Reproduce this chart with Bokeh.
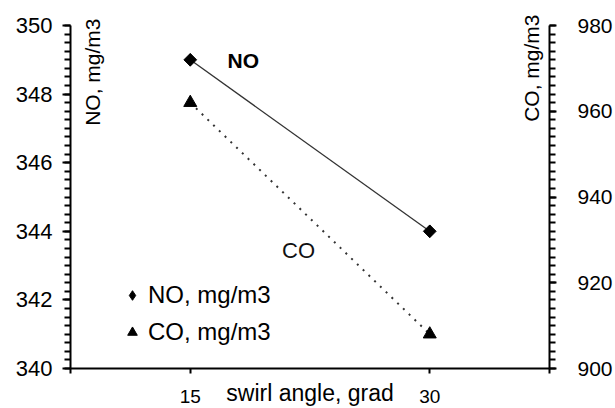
import math
from bokeh.plotting import figure
from bokeh.models import (Range1d, LinearAxis, FixedTicker, Label, Legend, LegendItem)
from bokeh.embed import file_html
from bokeh.resources import INLINE

# ---- data ----
swirl_angle = [15, 30]
no_values = [349, 344]      # NO, mg/m3 (left axis)
co_values = [962, 908]      # CO, mg/m3 (right axis)
x_tick_labels = {7.5: "", 15: "15", 30: "30", 37.5: ""}
no_ticks = [340, 342, 344, 346, 348, 350]
co_ticks = [900, 920, 940, 960, 980]
x_label = "swirl angle, grad"
no_axis_label = "NO, mg/m3"
co_axis_label = "CO, mg/m3"

FONT = "Liberation Sans"

# head-room above the top tick so the rotated axis titles are not clipped
NO_LO, NO_HI = 340, 350
CO_LO, CO_HI = 900, 980
PAD = 17 / 343.0
no_top = NO_HI + (NO_HI - NO_LO) * PAD
co_top = CO_HI + (CO_HI - CO_LO) * PAD

p = figure(width=615, height=408, output_backend="svg", toolbar_location=None,
           x_range=Range1d(7.5, 37.5), y_range=Range1d(NO_LO, no_top),
           min_border_left=70, min_border_right=63, min_border_top=8, min_border_bottom=38,
           x_axis_type=None, y_axis_type=None)
p.outline_line_color = None
p.background_fill_color = "white"
p.border_fill_color = "white"
p.xgrid.visible = False
p.ygrid.visible = False
p.extra_y_ranges = {"co": Range1d(CO_LO, co_top)}

# bottom axis
xa = LinearAxis(ticker=FixedTicker(ticks=[7.5, 15, 30, 37.5], minor_ticks=[]))
xa.major_label_overrides = x_tick_labels
xa.axis_line_width = 2
xa.axis_line_color = "black"
xa.major_tick_line_width = 2
xa.major_tick_out = 5
xa.major_tick_in = 0
xa.minor_tick_out = 0
xa.minor_tick_in = 0
xa.major_label_standoff = 16
xa.major_label_text_font = FONT
xa.major_label_text_font_size = "19px"
xa.major_label_text_color = "black"
xa.axis_label = x_label
xa.axis_label_text_font = FONT
xa.axis_label_text_font_size = "23px"
xa.axis_label_text_font_style = "normal"
xa.axis_label_text_color = "black"
xa.axis_label_standoff = -26
p.add_layout(xa, "below")

# left axis
ya = LinearAxis(bounds=(NO_LO, NO_HI),
                ticker=FixedTicker(ticks=no_ticks,
                                   minor_ticks=[340 + 0.25 * i for i in range(41)]))
ya.axis_line_width = 2
ya.axis_line_color = "black"
ya.major_tick_line_width = 2
ya.minor_tick_line_width = 2
ya.major_tick_out = 8
ya.major_tick_in = 0
ya.minor_tick_out = 6
ya.minor_tick_in = 0
ya.major_label_standoff = 10
ya.major_label_text_font = FONT
ya.major_label_text_font_size = "22px"
ya.major_label_text_color = "black"
p.add_layout(ya, "left")

# right axis
ya2 = LinearAxis(y_range_name="co", bounds=(CO_LO, CO_HI),
                 ticker=FixedTicker(ticks=co_ticks,
                                    minor_ticks=[900 + 2 * i for i in range(41)]))
ya2.axis_line_width = 2
ya2.axis_line_color = "black"
ya2.major_tick_line_width = 2
ya2.minor_tick_line_width = 2
ya2.major_tick_out = 7
ya2.major_tick_in = 0
ya2.minor_tick_out = 6
ya2.minor_tick_in = 0
ya2.major_label_standoff = 21
ya2.major_label_text_font = FONT
ya2.major_label_text_font_size = "21px"
ya2.major_label_text_color = "black"
p.add_layout(ya2, "right")

# series
p.line(swirl_angle, no_values, line_color="#333333", line_width=1.3)
# diamond swatch used by the legend (hidden beneath the plotted markers)
no_swatch = p.scatter(swirl_angle, no_values, marker="diamond", size=12,
                      fill_color="black", line_color="black")
p.scatter(swirl_angle, no_values, marker="square", angle=math.pi / 4,
          size=9, fill_color="black", line_color="black")
p.line(swirl_angle, co_values, y_range_name="co", line_color="#333333",
       line_width=2, line_dash="2 6")
co_pts = p.scatter(swirl_angle, co_values, y_range_name="co", marker="triangle",
                   size=13, fill_color="black", line_color="black")

# legend
legend = Legend(items=[LegendItem(label="NO, mg/m3", renderers=[no_swatch]),
                       LegendItem(label="CO, mg/m3", renderers=[co_pts])],
                location=(50, 21), orientation="vertical",
                background_fill_alpha=0, border_line_color=None,
                padding=0, margin=0, spacing=7,
                glyph_width=24, glyph_height=30, label_height=30,
                label_standoff=4,
                label_text_font=FONT, label_text_font_size="24px",
                label_text_color="black")
p.add_layout(legend)

# series labels
p.add_layout(Label(x=swirl_angle[0], y=no_values[0], x_offset=53, y_offset=-1,
                   text="NO", text_font=FONT, text_font_size="21px",
                   text_font_style="bold", text_align="center",
                   text_baseline="middle", text_color="black"))
p.add_layout(Label(x=21.78, y=343.43, text="CO", text_font=FONT,
                   text_font_size="22px", text_align="center",
                   text_baseline="middle", text_color="#111111"))

# axis titles (inside the plot area, rotated)
p.add_layout(Label(x=7.5, y=NO_HI, x_offset=22, y_offset=7, angle=math.pi / 2,
                   text=no_axis_label, text_font=FONT, text_font_size="21px",
                   text_align="right", text_baseline="middle", text_color="black"))
p.add_layout(Label(x=37.5, y=CO_HI, y_range_name="co", x_offset=-18, y_offset=11,
                   angle=math.pi / 2, text=co_axis_label, text_font=FONT,
                   text_font_size="21px", text_align="right",
                   text_baseline="middle", text_color="black"))

open("out.html", "w").write(file_html(p, INLINE))
